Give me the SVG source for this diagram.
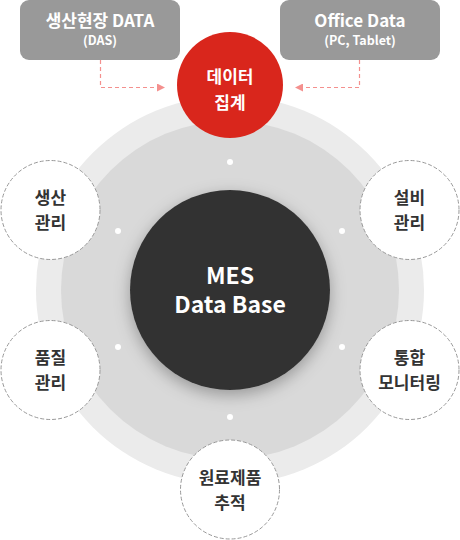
<svg xmlns="http://www.w3.org/2000/svg" width="460" height="540" viewBox="0 0 460 540">
  <defs>
    <filter id="shadow" x="-30%" y="-30%" width="160%" height="160%">
      <feDropShadow dx="0" dy="5" stdDeviation="8" flood-color="#000" flood-opacity="0.3"/>
    </filter>
    <marker id="arrow" viewBox="0 0 8 8" refX="7" refY="4" markerWidth="8" markerHeight="8" markerUnits="userSpaceOnUse" orient="auto">
      <path d="M0,0 L8,4 L0,8 Z" fill="#f4908e"/>
    </marker>
    <style>
      text { font-family: "Noto Sans CJK KR", "Noto Sans", sans-serif; font-weight: bold; text-anchor: middle; }
      .box { fill: #999999; }
      .boxt { fill: #ffffff; font-size: 17px; }
      .boxs { fill: #ffffff; font-size: 12.5px; }
      .sat { fill: #ffffff; stroke: #999999; stroke-width: 1; stroke-dasharray: 4 2; }
      .satt { fill: #333333; font-size: 17px; }
      .dot { fill: #ffffff; }
      .conn { fill: none; stroke: #f4908e; stroke-width: 1.2; stroke-dasharray: 4 3; }
    </style>
  </defs>

  <g id="background-rings">
    <circle cx="230" cy="290" r="194" fill="#ebebeb"/>
    <circle cx="230" cy="290" r="169" fill="#d9d9d9"/>
    <circle class="dot" cx="230" cy="162" r="3"/>
    <circle class="dot" cx="118" cy="231" r="3"/>
    <circle class="dot" cx="342" cy="231" r="3"/>
    <circle class="dot" cx="118" cy="347" r="3"/>
    <circle class="dot" cx="342" cy="347" r="3"/>
    <circle class="dot" cx="230" cy="417" r="3"/>
  </g>

  <g id="connectors">
    <path class="conn" d="M100.5,60 V87.5 H164" marker-end="url(#arrow)"/>
    <path class="conn" d="M359.5,60 V87.5 H296" marker-end="url(#arrow)"/>
  </g>

  <g id="node-das">
    <rect class="box" x="20" y="0" width="160" height="60" rx="9"/>
    <text class="boxt" x="100" y="27">생산현장 DATA</text>
    <text class="boxs" x="100" y="45">(DAS)</text>
  </g>

  <g id="node-office">
    <rect class="box" x="280" y="0" width="160" height="60" rx="9"/>
    <text class="boxt" x="360" y="27">Office Data</text>
    <text class="boxs" x="360" y="45">(PC, Tablet)</text>
  </g>

  <g id="node-aggregate">
    <circle cx="230" cy="85" r="53" fill="#d9261c"/>
    <text x="230" y="83" fill="#ffffff" font-size="17">데이터</text>
    <text x="230" y="109" fill="#ffffff" font-size="17">집계</text>
  </g>

  <g id="node-mes">
    <circle cx="230" cy="290" r="100" fill="#333333" filter="url(#shadow)"/>
    <text x="230" y="284" fill="#ffffff" font-size="23">MES</text>
    <text x="230" y="313" fill="#ffffff" font-size="23">Data Base</text>
  </g>

  <g id="node-production">
    <circle class="sat" cx="50.5" cy="210" r="49.5"/>
    <text class="satt" x="50.5" y="204">생산</text>
    <text class="satt" x="50.5" y="229">관리</text>
  </g>

  <g id="node-quality">
    <circle class="sat" cx="50.5" cy="370" r="49.5"/>
    <text class="satt" x="50.5" y="364">품질</text>
    <text class="satt" x="50.5" y="389">관리</text>
  </g>

  <g id="node-equipment">
    <circle class="sat" cx="409.5" cy="210" r="49.5"/>
    <text class="satt" x="409.5" y="204">설비</text>
    <text class="satt" x="409.5" y="229">관리</text>
  </g>

  <g id="node-monitoring">
    <circle class="sat" cx="409.5" cy="370" r="49.5"/>
    <text class="satt" x="409.5" y="364">통합</text>
    <text class="satt" x="409.5" y="389">모니터링</text>
  </g>

  <g id="node-tracking">
    <circle class="sat" cx="230" cy="489.5" r="49.5"/>
    <text class="satt" x="230" y="484">원료제품</text>
    <text class="satt" x="230" y="509">추적</text>
  </g>
</svg>
